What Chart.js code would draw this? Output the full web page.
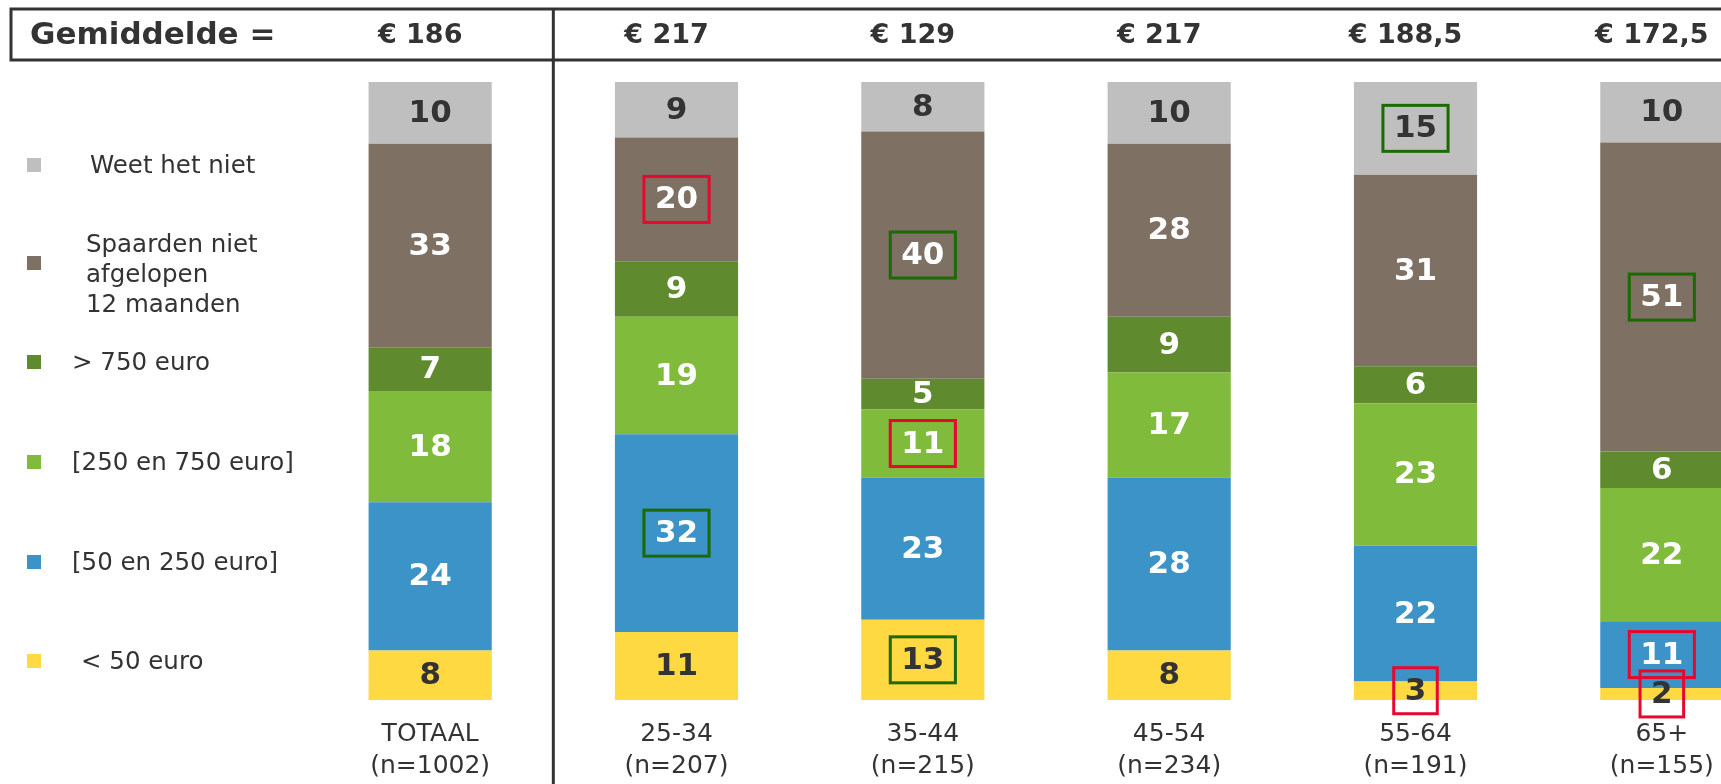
<!DOCTYPE html>
<html>
<head>
<meta charset="utf-8">
<script src="https://cdn.jsdelivr.net/npm/chart.js@4/dist/chart.umd.min.js"></script>
<style>
  html, body { margin: 0; padding: 0; background: #fff; overflow: hidden; }
  #wrap { position: absolute; left: 0; top: 0; width: 1800px; height: 784px; }
  .leg { position: absolute; font-family: "DejaVu Sans", Verdana, sans-serif; font-size: 24.5px; color: #333; line-height: 30px; white-space: pre; }
  .sq { position: absolute; width: 14px; height: 14px; left: 27px; }
</style>
</head>
<body>
<div id="wrap"><canvas id="chart" width="1800" height="784"></canvas></div>
<div id="legend"></div>
<script>
// ========================
// DATA
// ========================
const categories = [
  ["TOTAAL", "(n=1002)"],
  ["25-34", "(n=207)"],
  ["35-44", "(n=215)"],
  ["45-54", "(n=234)"],
  ["55-64", "(n=191)"],
  ["65+", "(n=155)"]
];
const gemiddelde = ["€ 186", "€ 217", "€ 129", "€ 217", "€ 188,5", "€ 172,5"];

// stack order: bottom -> top
const minder50 = [8, 11, 13, 8, 3, 2];
const tussen50en250 = [24, 32, 23, 28, 22, 11];
const tussen250en750 = [18, 19, 11, 17, 23, 22];
const meer750 = [7, 9, 5, 9, 6, 6];
const spaardenNiet = [33, 20, 40, 28, 31, 51];
const weetNiet = [10, 9, 8, 10, 15, 10];

const seriesNames = ["< 50 euro", "[50 en 250 euro]", "[250 en 750 euro]", "> 750 euro", "Spaarden niet afgelopen 12 maanden", "Weet het niet"];

// highlighted cells: [series index, category index]
const rodeKaders = [[4, 1], [2, 2], [0, 4], [1, 5], [0, 5]];
const groeneKaders = [[1, 1], [4, 2], [0, 2], [5, 4], [4, 5]];

// ========================
// STYLE
// ========================
const colors = ["#fed942", "#3b93c7", "#81bb3c", "#608a2e", "#7e7063", "#bfbfbf"];
const labelColors = ["#333333", "#ffffff", "#ffffff", "#ffffff", "#ffffff", "#333333"];
const DARK = "#333333";
const FONT = "'DejaVu Sans', Verdana, sans-serif";

// ========================
// LEGEND (html)
// ========================
(function buildLegend() {
  const items = [
    { c: 5, y: 165, ty: 165, x: 90, text: "Weet het niet" },
    { c: 4, y: 263, ty: 274, x: 86, text: "Spaarden niet\nafgelopen\n12 maanden" },
    { c: 3, y: 362, ty: 362, x: 72, text: "> 750 euro" },
    { c: 2, y: 462, ty: 462, x: 72, text: "[250 en 750 euro]" },
    { c: 1, y: 562, ty: 562, x: 72, text: "[50 en 250 euro]" },
    { c: 0, y: 661, ty: 661, x: 81, text: "< 50 euro" }
  ];
  const host = document.getElementById("legend");
  items.forEach(it => {
    const sq = document.createElement("div");
    sq.className = "sq";
    sq.style.top = (it.y - 7) + "px";
    sq.style.background = colors[it.c];
    host.appendChild(sq);
    const lines = it.text.split("\n").length;
    const t = document.createElement("div");
    t.className = "leg";
    t.style.left = it.x + "px";
    t.style.top = (it.ty - lines * 15) + "px";
    t.textContent = it.text;
    host.appendChild(t);
  });
})();

// ========================
// CHART DATA (shares per column)
// ========================
const raw = [minder50, tussen50en250, tussen250en750, meer750, spaardenNiet, weetNiet];
const totals = categories.map((_, i) => raw.reduce((s, arr) => s + arr[i], 0));

const datasets = raw.map((arr, k) => ({
  label: seriesNames[k],
  data: arr.map((v, i) => v / totals[i] * 100),
  backgroundColor: colors[k],
  borderWidth: 0,
  barPercentage: 1,
  categoryPercentage: 0.5
}));

// ========================
// PLUGIN: header, separator, labels, boxes
// ========================
const decor = {
  id: "decor",
  afterDraw(chart) {
    const ctx = chart.ctx;
    const xs = chart.scales.x;
    ctx.save();

    // header box
    ctx.strokeStyle = DARK;
    ctx.lineWidth = 3;
    ctx.strokeRect(11, 9, chart.width + 20, 51);

    // separator between TOTAAL and age groups
    const sepX = (xs.getPixelForValue(0) + xs.getPixelForValue(1)) / 2;
    ctx.beginPath();
    ctx.moveTo(sepX, 9);
    ctx.lineTo(sepX, chart.height);
    ctx.stroke();

    // header texts
    ctx.fillStyle = DARK;
    ctx.textBaseline = "middle";
    ctx.textAlign = "left";
    ctx.font = "bold 31px " + FONT;
    ctx.fillText("Gemiddelde =", 30, 36);
    ctx.font = "bold 27px " + FONT;
    ctx.textAlign = "center";
    gemiddelde.forEach((g, i) => {
      ctx.fillText(g, xs.getPixelForValue(i) - 10, 36);
    });

    // segment labels
    ctx.font = "bold 31px " + FONT;
    const centers = {};
    chart.data.datasets.forEach((ds, k) => {
      const meta = chart.getDatasetMeta(k);
      meta.data.forEach((bar, i) => {
        const cy = (bar.y + bar.base) / 2;
        centers[k + "_" + i] = { x: bar.x, y: cy };
        ctx.fillStyle = labelColors[k];
        ctx.fillText(String(raw[k][i]), bar.x, cy + 1);
      });
    });

    // highlight boxes
    const drawBox = (list, color) => {
      ctx.strokeStyle = color;
      ctx.lineWidth = 3;
      list.forEach(([k, i]) => {
        const c = centers[k + "_" + i];
        const w = ctx.measureText(String(raw[k][i])).width + 22;
        ctx.strokeRect(c.x - w / 2, c.y - 23, w, 46);
      });
    };
    drawBox(groeneKaders, "#1b6a06");
    drawBox(rodeKaders, "#e8072f");

    ctx.restore();
  }
};

// ========================
// CHART
// ========================
new Chart(document.getElementById("chart"), {
  type: "bar",
  data: { labels: categories, datasets },
  options: {
    responsive: false,
    animation: false,
    layout: { padding: { left: 307, right: 15, top: 82, bottom: -17 } },
    plugins: { legend: { display: false }, tooltip: { enabled: false } },
    scales: {
      x: {
        stacked: true,
        grid: { display: false, drawTicks: false },
        border: { display: false },
        ticks: {
          color: DARK,
          padding: 18,
          font: { family: FONT, size: 25, lineHeight: 1.3 }
        }
      },
      y: {
        stacked: true,
        display: false,
        min: 0,
        max: 100
      }
    }
  },
  plugins: [decor]
});
</script>
</body>
</html>
